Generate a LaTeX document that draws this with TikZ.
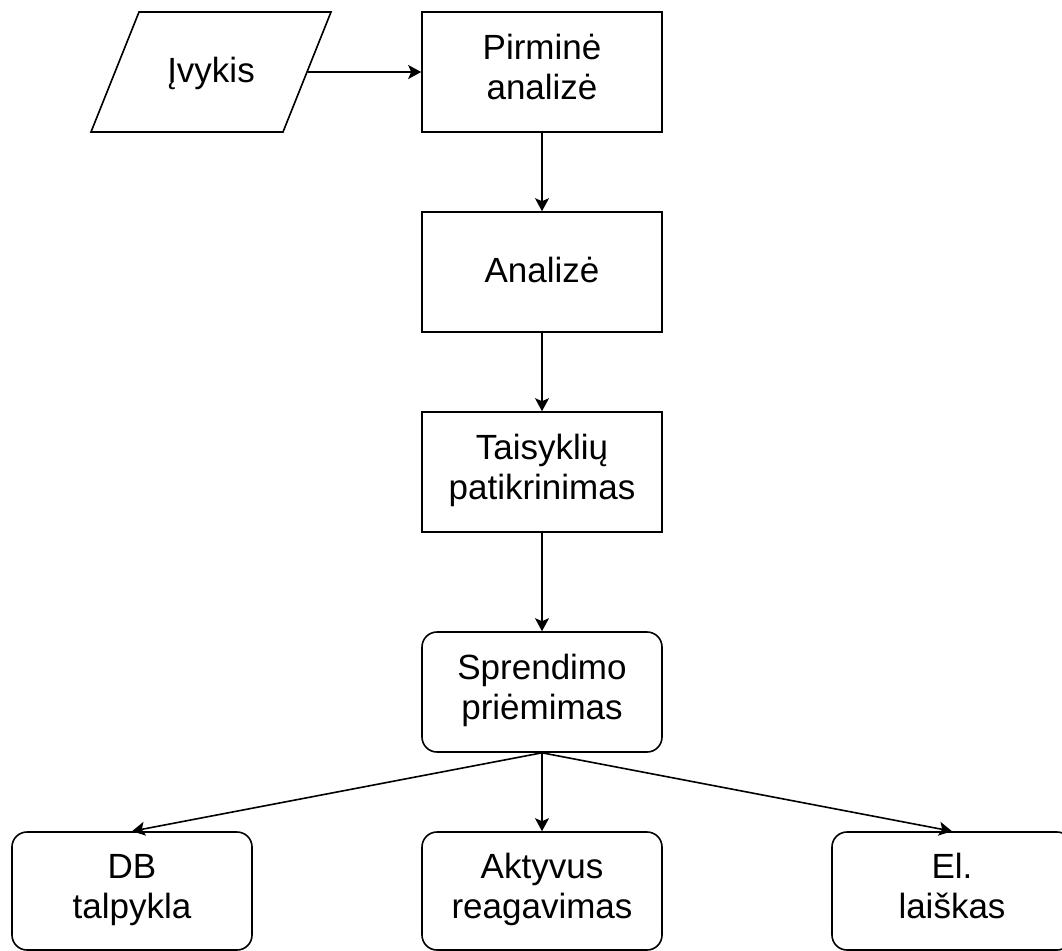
\documentclass[tikz,border=0pt]{standalone}
\usepackage{fontspec}
\setmainfont{Liberation Sans}
\usetikzlibrary{arrows.meta,shapes.geometric}

\begin{document}
\begin{tikzpicture}[
  x=0.5pt, y=-0.5pt,
  stage/.style={
    draw=black, line width=0.8pt, fill=white,
    minimum width=120pt, minimum height=60pt,
    font=\fontsize{17.5}{20}\selectfont, align=center, inner sep=2pt,
    execute at begin node=\rule{0pt}{15pt},
    execute at end node=\rule[-5pt]{0pt}{5pt}
  },
  decision/.style={stage, rounded corners=7.5pt},
  outcome/.style={stage, rounded corners=7.5pt, minimum height=59pt},
  inputbox/.style={
    stage, shape=trapezium, trapezium stretches body=true,
    trapezium left angle=45, trapezium right angle=135
  },
  flow/.style={-{Stealth[length=6.5pt,width=7pt,inset=1.5pt]}, line width=0.8pt, draw=black}
]
\useasboundingbox (0,0) rectangle (1062,950);

% Input event and the analysis chain.
\node[inputbox] (event)    at (211,72)  {Įvykis};
\node[stage]    (primary)  at (542,72)  {Pirminė\\analizė};
\node[stage]    (analysis) at (542,272) {Analizė};
\node[stage]    (rules)    at (542,472) {Taisyklių\\patikrinimas};
\node[decision] (decide)   at (542,692) {Sprendimo\\priėmimas};

% Outcomes of the decision.
\node[outcome] (store)  at (132,891) {DB\\talpykla};
\node[outcome] (active) at (542,891) {Aktyvus\\reagavimas};
\node[outcome] (mail)   at (952,891) {El.\\laiškas};

% Straight flow down the chain.
\draw[flow] (event) -- (primary);
\draw[flow] (primary) -- (analysis);
\draw[flow] (analysis) -- (rules);
\draw[flow] (rules) -- (decide);

% Fan out from the decision.
\draw[flow] (decide.south) -- (store.north);
\draw[flow] (decide.south) -- (active.north);
\draw[flow] (decide.south) -- (mail.north);

\end{tikzpicture}
\end{document}
